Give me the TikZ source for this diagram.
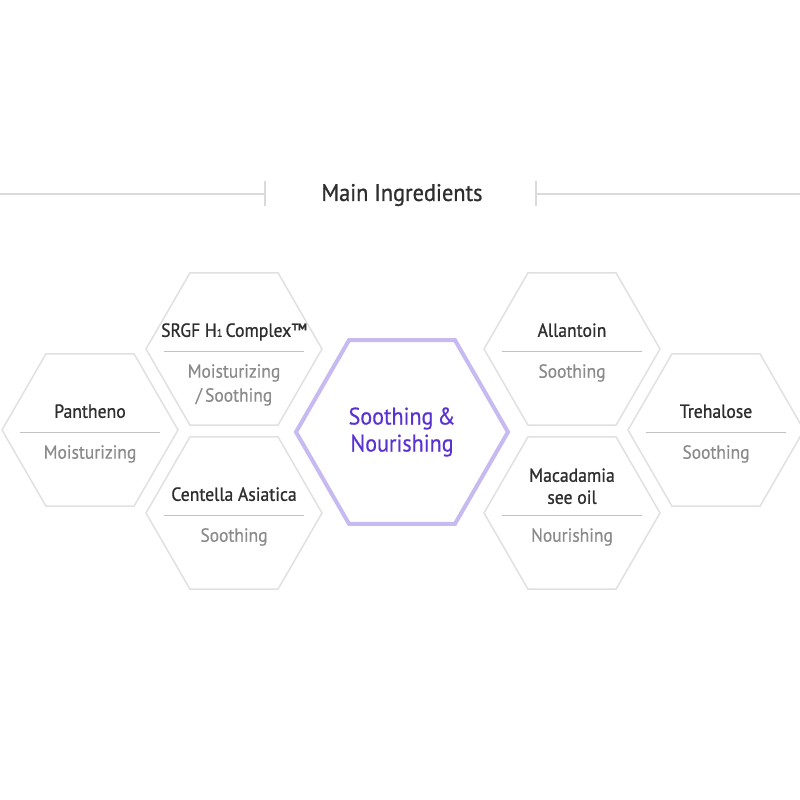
\documentclass[tikz,border=0pt]{standalone}
\usepackage{fontspec}
\setmainfont{PT Sans}
\newfontfamily\namefont{PT Sans}[FakeBold=0.9, FakeStretch=0.93]
\newfontfamily\subfont{PT Sans}[FakeBold=0.4, FakeStretch=0.92]
\usetikzlibrary{shapes.geometric,positioning}
\definecolor{hexgray}{HTML}{E0E0E0}
\definecolor{lavender}{HTML}{C6BAF0}
\definecolor{violettext}{HTML}{5A32D2}
\definecolor{namegray}{HTML}{2E2E2E}
\definecolor{subgray}{HTML}{8A8A8A}
\definecolor{rulegray}{HTML}{C2C2C2}
\definecolor{headgray}{HTML}{DADADA}

\begin{document}
\begin{tikzpicture}[
x=1pt, y=-1pt,
hexa/.style={draw=hexgray, line width=1.5pt, regular polygon, regular polygon sides=6, minimum size=176pt, inner sep=0pt},
bighex/.style={hexa, draw=lavender, line width=4pt, minimum size=212pt},
ingname/.style={inner sep=0pt, text depth=0pt, align=center, text=namegray, font=\namefont\fontsize{19}{22}\selectfont},
ingsub/.style={inner sep=0pt, align=center, text=subgray, font=\subfont\fontsize{19}{24}\selectfont},
divider/.style={draw=rulegray, line width=1pt},
headline/.style={draw=headgray, line width=1.5pt}
]
\useasboundingbox (0,0) rectangle (800,800);

% header
\node (title) at (402,195) [text=namegray, font=\namefont\fontsize{24}{28}\selectfont] {Main Ingredients};
\coordinate (hl) at (0,194);
\coordinate (htl) at (265,194);
\coordinate (htr) at (536,194);
\coordinate (hr) at (800,194);
\draw[headline] (hl) -- (htl);
\draw[headline] (htr) -- (hr);
\draw[headline] ([yshift=13pt]htl) -- ([yshift=-12pt]htl);
\draw[headline] ([yshift=13pt]htr) -- ([yshift=-12pt]htr);

% centre
\node (core) at (402,432) [bighex] {};
\node (coretext) at (core) [align=center, text=violettext, font=\subfont\fontsize{24}{27}\selectfont] {Soothing\,\&\\Nourishing};

% left side
\node (pan) at (90,430) [hexa] {};
\node (panname) [ingname, above=12pt of pan.center] {Pantheno};
\node (pansub) [ingsub, below=15pt of pan.center] {Moisturizing};
\draw[divider] ([xshift=-70pt,yshift=-2pt]pan.center) -- ([xshift=70pt,yshift=-2pt]pan.center);

\node (srgf) at (234,349) [hexa] {};
\node (srgfname) [ingname, above=12pt of srgf.center] {SRGF H{\fontsize{11}{11}\selectfont 1}\,Complex™};
\node (srgfsub) [ingsub, below=15pt of srgf.center] {Moisturizing\\/\,Soothing};
\draw[divider] ([xshift=-70pt,yshift=-2pt]srgf.center) -- ([xshift=70pt,yshift=-2pt]srgf.center);

\node (cen) at (234,513) [hexa] {};
\node (cenname) [ingname, above=12pt of cen.center] {Centella Asiatica};
\node (censub) [ingsub, below=15pt of cen.center] {Soothing};
\draw[divider] ([xshift=-70pt,yshift=-2pt]cen.center) -- ([xshift=70pt,yshift=-2pt]cen.center);

% right side
\node (all) at (572,349) [hexa] {};
\node (allname) [ingname, above=12pt of all.center] {Allantoin};
\node (allsub) [ingsub, below=15pt of all.center] {Soothing};
\draw[divider] ([xshift=-70pt,yshift=-2pt]all.center) -- ([xshift=70pt,yshift=-2pt]all.center);

\node (mac) at (572,513) [hexa] {};
\node (macname) [ingname, above=9pt of mac.center] {Macadamia\\see oil};
\node (macsub) [ingsub, below=15pt of mac.center] {Nourishing};
\draw[divider] ([xshift=-70pt,yshift=-2pt]mac.center) -- ([xshift=70pt,yshift=-2pt]mac.center);

\node (tre) at (716,430) [hexa] {};
\node (trename) [ingname, above=12pt of tre.center] {Trehalose};
\node (tresub) [ingsub, below=15pt of tre.center] {Soothing};
\draw[divider] ([xshift=-70pt,yshift=-2pt]tre.center) -- ([xshift=70pt,yshift=-2pt]tre.center);
\end{tikzpicture}
\end{document}
